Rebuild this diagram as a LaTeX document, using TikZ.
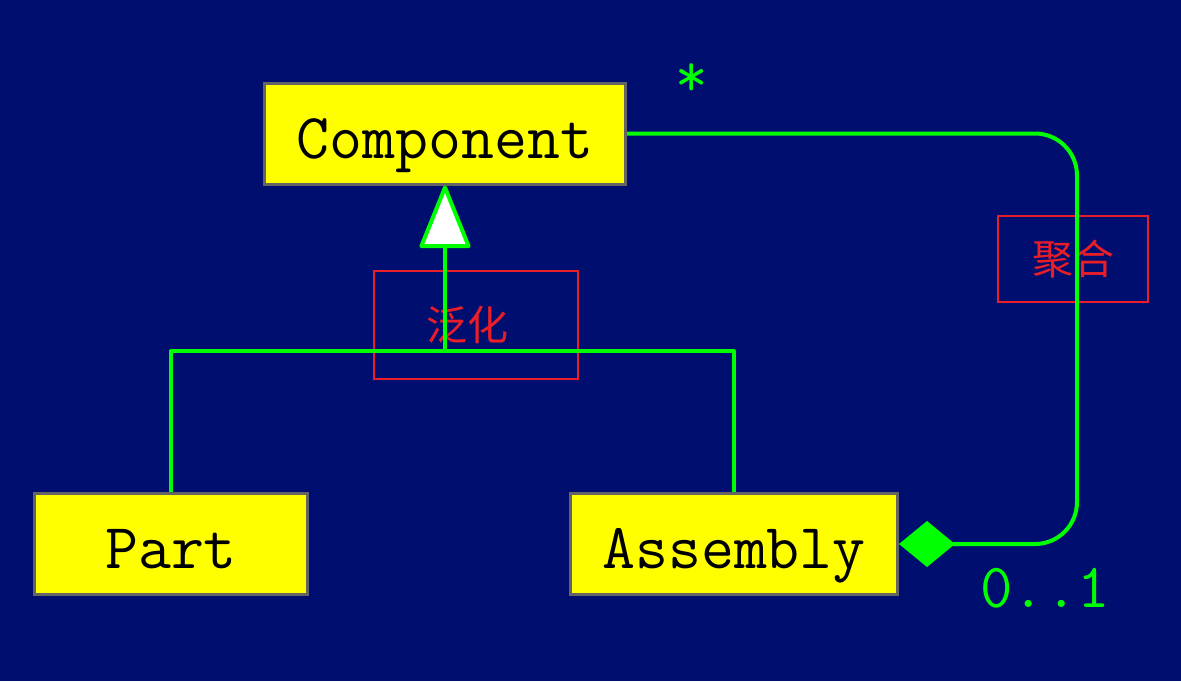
\documentclass[tikz,border=0pt]{standalone}
\usepackage{fontspec}
\newfontfamily\cjk{Noto Sans CJK SC}
\usetikzlibrary{arrows.meta, positioning}
\definecolor{navy}{RGB}{0,14,112}
\definecolor{umlgreen}{RGB}{0,255,0}
\definecolor{boxgray}{RGB}{100,100,100}
\definecolor{boxyellow}{RGB}{255,255,0}
\definecolor{notered}{RGB}{232,30,40}

\begin{document}
\begin{tikzpicture}[x=1pt, y=-1pt,
		classbox/.style={draw=boxgray, line width=3pt, fill=boxyellow, inner sep=0pt, minimum height=101pt, text height=49pt, text depth=0pt, font=\fontsize{64}{64}\ttfamily},
		notebox/.style={draw=notered, line width=2pt, text=notered, inner sep=0pt, font=\fontsize{41}{41}\cjk},
		link/.style={umlgreen, line width=4pt, line join=round},
		mult/.style={text=umlgreen, inner sep=0pt, font=\fontsize{63}{63}\ttfamily}]
		\fill [navy] (0,0) rectangle (1181,681);
		\useasboundingbox (0,0) rectangle (1181,681);
		% classes
		\node [classbox, minimum width=361pt] (component) at (445,133.5) {Component};
		\node [classbox, minimum width=273pt] (part) at (171,544) {Part};
		\node [classbox, minimum width=327pt] (assembly) at (734,544) {Assembly};
		% notes
		\node [notebox, minimum width=204pt, minimum height=108pt] (generalization) at (476,325) {泛化\hspace*{18pt}};
		\node [notebox, minimum width=150pt, minimum height=86pt] (aggregation) at (1073,259) {聚合};
		% generalization
		\coordinate (fork) at (445,351);
		\draw [link] (part.north) |- (fork) -| (assembly.north);
		\draw [link, -{Triangle[length=66pt, width=52pt, fill=white, round]}] (fork) -- (component.south);
		% aggregation
		\coordinate (bend) at (1077,544);
		\draw [link, rounded corners=42pt, {Diamond[length=56pt, width=46pt]}-] (assembly.east) -- (bend) |- (component.east);
		\node [mult] (many) at (692,80) {*};
		\node [mult] (optional) at (1045,588) {0..1};
	\end{tikzpicture}
\end{document}
